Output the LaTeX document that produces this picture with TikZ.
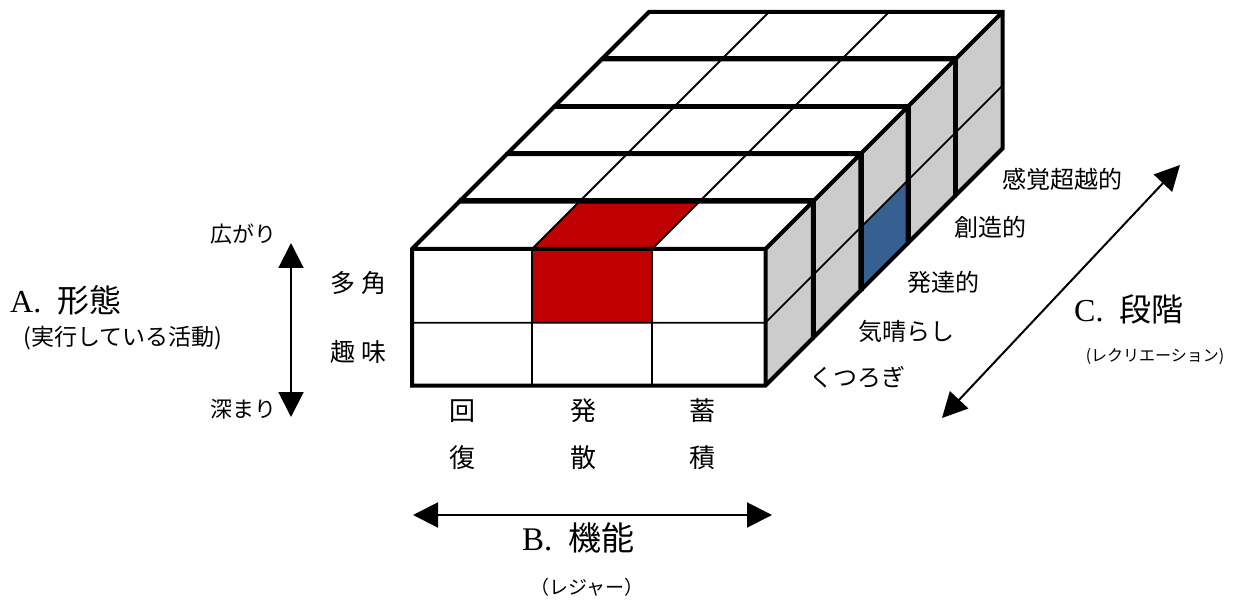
\documentclass[tikz,border=0pt]{standalone}
\usepackage{fontspec}
\setmainfont{Liberation Serif}
\newfontfamily\jpf{Noto Sans CJK JP}
\usetikzlibrary{arrows.meta}
\definecolor{sidegray}{HTML}{CCCCCC}
\definecolor{cellred}{HTML}{C00000}
\definecolor{cellblue}{HTML}{376092}
\begin{document}
\begin{tikzpicture}[x=1pt,y=-1pt,
  thickline/.style={line width=4pt, line join=miter},
  sepline/.style={line width=6.5pt, line join=miter},
  thinline/.style={line width=1.8pt},
  dblarrow/.style={line width=2pt, {Triangle[length=25pt,width=25pt]}-{Triangle[length=25pt,width=25pt]}},
  jp/.style={font=\jpf\fontsize{#1}{#1}\selectfont, inner sep=0pt},
  lat/.style={font=\fontsize{#1}{#1}\selectfont, inner sep=0pt},
]
\useasboundingbox (0,0) rectangle (1236,601);
\def\dep{47.4}
\foreach \k in {4,3,2,1,0}{
  \pgfmathsetmacro\sL{412+\k*\dep}
  \pgfmathsetmacro\sCa{532+\k*\dep}
  \pgfmathsetmacro\sCb{652+\k*\dep}
  \pgfmathsetmacro\sR{765.5+\k*\dep}
  \pgfmathsetmacro\sT{249-\k*\dep}
  \pgfmathsetmacro\sM{322.7-\k*\dep}
  \pgfmathsetmacro\sB{385.5-\k*\dep}
  % fills
  \fill[white] (\sL,\sT) -- (\sR,\sT) -- (\sR+\dep,\sT-\dep) -- (\sL+\dep,\sT-\dep) -- cycle;
  \fill[sidegray] (\sR,\sT) -- (\sR+\dep,\sT-\dep) -- (\sR+\dep,\sB-\dep) -- (\sR,\sB) -- cycle;
  \fill[white] (\sL,\sT) rectangle (\sR,\sB);
  \ifnum\k=0
    \fill[cellred] (\sCa,\sT) -- (\sCb,\sT) -- (\sCb+\dep,\sT-\dep) -- (\sCa+\dep,\sT-\dep) -- cycle;
    \fill[cellred] (\sCa,\sT) rectangle (\sCb,\sM);
  \fi
  \ifnum\k=2
    \fill[cellblue] (\sR,\sM) -- (\sR+\dep,\sM-\dep) -- (\sR+\dep,\sB-\dep) -- (\sR,\sB) -- cycle;
  \fi
  % thin inner lines
  \draw[thinline] (\sCa,\sT) -- (\sCa+\dep,\sT-\dep)
                  (\sCb,\sT) -- (\sCb+\dep,\sT-\dep)
                  (\sR,\sM) -- (\sR+\dep,\sM-\dep)
                  (\sL,\sM) -- (\sR,\sM)
                  (\sCa,\sT) -- (\sCa,\sB)
                  (\sCb,\sT) -- (\sCb,\sB);
  % separators (visible for slices behind the front one)
  \ifnum\k>0
    \draw[sepline] (\sL,\sT) -- (\sR,\sT) -- (\sR,\sB);
  \fi
  % thick outline
  \draw[thickline] (\sL,\sB) -- (\sL,\sT) -- (\sL+\dep,\sT-\dep) -- (\sR+\dep,\sT-\dep)
                   -- (\sR+\dep,\sB-\dep) -- (\sR,\sB) -- cycle
                   (\sL,\sT) -- (\sR,\sT) -- (\sR+\dep,\sT-\dep)
                   (\sR,\sT) -- (\sR,\sB);
}
% axis A
\coordinate (atop) at (291,243);
\coordinate (abot) at (291,417);
\draw[dblarrow] (atop) -- (abot);
\node[jp=22] (hirogari) at (243,234) {広がり};
\node[jp=22] (fukamari) at (243,409) {深まり};
\node[lat=32, anchor=west] (Alab) at (10,300) {A.\hspace{16pt}{\jpf 形態}};
\node[jp=23] (Asub) at (123,338) {(実行している活動)};
\node[jp=25] (takaku) at (358,283) {多\hspace{6pt}角};
\node[jp=25] (shumi) at (358,352) {趣\hspace{6pt}味};
% axis B
\node[jp=26] (b1a) at (462.5,411) {回};
\node[jp=26] (b1b) at (462.5,458) {復};
\node[jp=26] (b2a) at (583,411) {発};
\node[jp=26] (b2b) at (583,458) {散};
\node[jp=26] (b3a) at (702,411) {蓄};
\node[jp=26] (b3b) at (702,458) {積};
\coordinate (bleft) at (413,515);
\coordinate (bright) at (772,515);
\draw[dblarrow] (bleft) -- (bright);
\node[lat=33, anchor=west] (Blab) at (522,538) {B.\hspace{16pt}{\jpf 機能}};
\node[jp=19] (Bsub) at (587,587) {（レジャー）};
% axis C
\node[jp=24] (c5) at (1062,179) {感覚超越的};
\node[jp=24] (c4) at (990,227) {創造的};
\node[jp=24] (c3) at (943,282) {発達的};
\node[jp=24] (c2) at (906,331) {気晴らし};
\node[jp=24] (c1) at (857,377) {くつろぎ};
\coordinate (clow) at (942,418);
\coordinate (chigh) at (1180,165);
\draw[dblarrow] (clow) -- (chigh);
\node[lat=32, anchor=west] (Clab) at (1074,309) {C.\hspace{16pt}{\jpf 段階}};
\node[jp=16] (Csub) at (1155,357) {(レクリエーション)};
\end{tikzpicture}
\end{document}
